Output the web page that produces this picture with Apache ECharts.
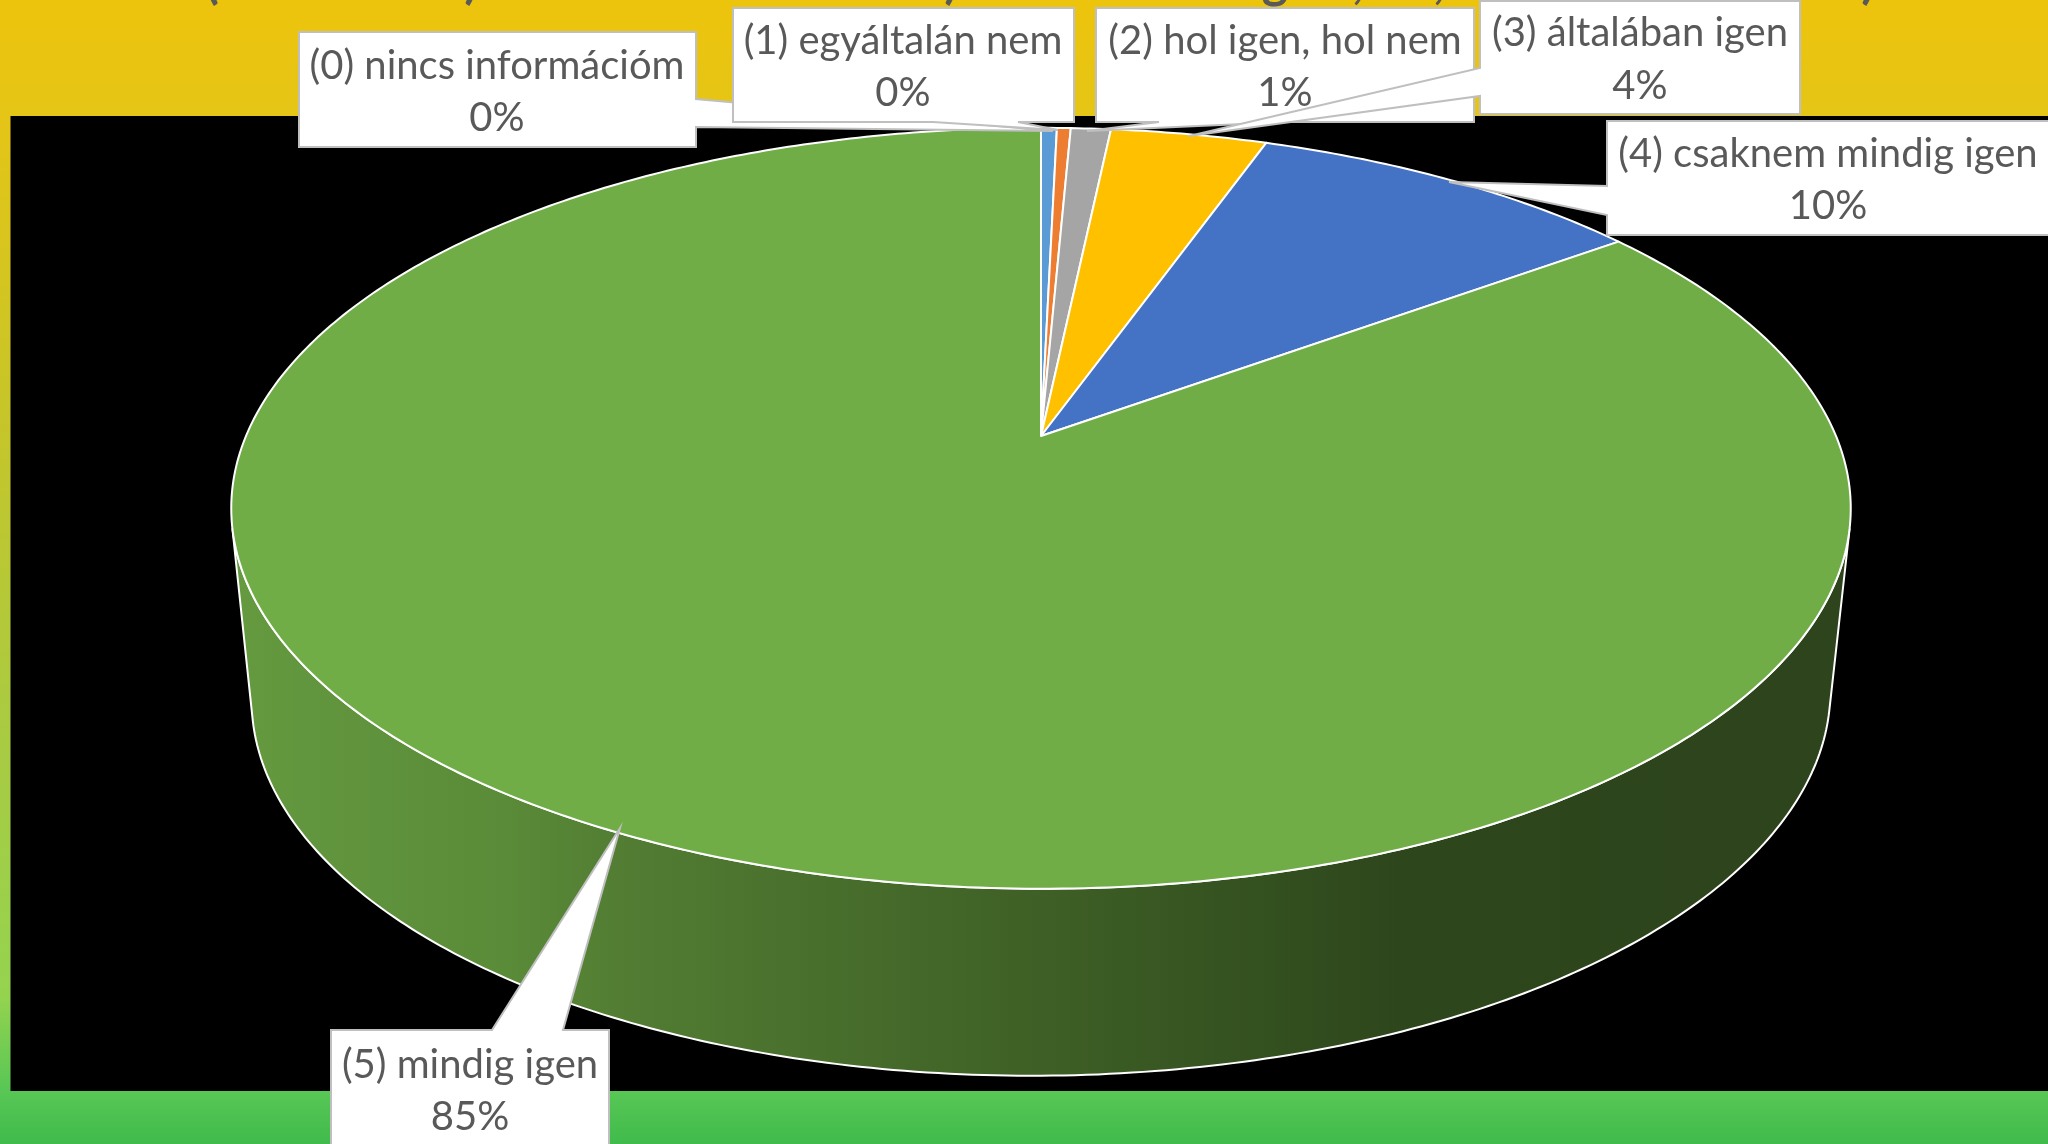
<!DOCTYPE html>
<html>
<head>
<meta charset="utf-8">
<style>html,body{margin:0;padding:0;background:#000;overflow:hidden}#c{width:2048px;height:1144px}</style>
<script src="https://cdn.jsdelivr.net/npm/echarts@6/dist/echarts.min.js"></script>
</head>
<body>
<div id="c"></div>
<script>
const categories = ['(0) nincs információm','(1) egyáltalán nem','(2) hol igen, hol nem','(3) általában igen','(4) csaknem mindig igen','(5) mindig igen'];
const values = [0.38, 0.33, 0.96, 3.75, 9.55, 85.03];
const colors = ['#5b9bd5','#ed7d31','#a5a5a5','#ffc000','#4472c4','#70ad47'];
const titleFragments = [['(',212],[')',471],[')',951],['g',1275],[',',1358],[',',1439],['g',1698],[',',1783],[')',1868]];

// picture layout, not data
const callouts = [
  {pts:[[299,32],[696,32],[696,99],[1053,131],[696,127],[696,147],[299,147]], cx:497, y:[66,118]},
  {pts:[[733,8],[1074,8],[1074,122],[1018,122],[1058,130],[933,122],[733,122]], cx:903, y:[41,93]},
  {pts:[[1096,8],[1474,8],[1474,122],[1287,122],[1087,131],[1159,122],[1096,122]], cx:1285, y:[41,93]},
  {pts:[[1480,1],[1800,1],[1800,114],[1480,114],[1480,96],[1189,136],[1480,68]], cx:1640, y:[33,86]},
  {pts:[[1607,121],[2060,121],[2060,235],[1607,235],[1607,215],[1449,182],[1607,186]], cx:1828, y:[154,206]},
  {pts:[[331,1030],[492,1030],[620,828],[563,1030],[609,1030],[609,1150],[331,1150]], cx:470, y:[1065,1117]}
];
const CX = 1041, P = 0.19, TILT_B = 366.7;
const TOP = {a:795, cy:436, shear:0}, BOTTOM = {a:775, cy:623, shear:0.006};
const WALL_FROM = 104 * Math.PI / 180, WALL_TO = 256 * Math.PI / 180;
const FONT = 'Lato';

function project(t, plane){
  const w = 1 + P * Math.cos(t);
  const dx = plane.a * Math.sin(t) / w;
  return [CX + dx, plane.cy - TILT_B * Math.cos(t) / w - plane.shear * dx];
}
function arc(t0, t1, plane){
  const n = Math.max(2, Math.ceil(Math.abs(t1 - t0) / 0.012));
  const out = [];
  for (let i = 0; i <= n; i++) out.push(project(t0 + (t1 - t0) * i / n, plane));
  return out;
}
const toAngle = v => echarts.number.linearMap(v, [0, 100], [0, Math.PI * 2]);
const wallFill = {type:'linear', global:true, x:231, y:0, x2:1851, y2:0, colorStops:[
  {offset:0,color:'#659a40'},{offset:0.17,color:'#5a8b38'},{offset:0.24,color:'#527d33'},
  {offset:0.45,color:'#426528'},{offset:0.64,color:'#33501f'},{offset:0.72,color:'#2e461c'},{offset:1,color:'#2d441c'}]};

function renderSlice(params, api){
  const i = params.dataIndex;
  let before = 0;
  for (let k = 0; k < i; k++) before += values[k];
  const t0 = toAngle(before), t1 = toAngle(before + api.value(0));
  const children = [];
  const a = Math.max(t0, WALL_FROM), b = Math.min(t1, WALL_TO);
  if (b > a) {
    children.push({type:'polygon', z2:1, shape:{points:arc(a,b,TOP).concat(arc(b,a,BOTTOM))},
      style:{fill:wallFill, stroke:'#ffffff', lineWidth:2, lineJoin:'round'}});
  }
  children.push({type:'polygon', z2:2, shape:{points:[[CX,TOP.cy]].concat(arc(t0,t1,TOP))},
    style:{fill:colors[i], stroke:'#ffffff', lineWidth:2, lineJoin:'round'}});
  return {type:'group', children};
}
function renderLabel(params, api){
  const i = params.dataIndex, c = callouts[i];
  const pct = Math.round(api.value(0)) + '%';
  const txt = (s, y) => ({type:'text', z2:i*3+2, style:{text:s, x:c.cx, y:y, align:'center', verticalAlign:'middle',
    fill:'#595959', font:'40px '+FONT}});
  return {type:'group', children:[
    {type:'polygon', z2:i*3+1, shape:{points:c.pts}, style:{fill:'#ffffff', stroke:'#bfbfbf', lineWidth:2, lineJoin:'miter'}},
    txt(categories[i], c.y[0]), txt(pct, c.y[1])
  ]};
}
const chart = echarts.init(document.getElementById('c'), null, {renderer:'canvas', width:2048, height:1144});
chart.setOption({
  animation:false,
  backgroundColor:'#000000',
  graphic:[
    {type:'rect', z:-3, shape:{x:0,y:0,width:2048,height:1144}, style:{fill:{type:'linear',x:0,y:0,x2:0,y2:1,colorStops:[
      {offset:0,color:'#edc40c'},{offset:0.10,color:'#e5c516'},{offset:0.35,color:'#c8c528'},{offset:0.65,color:'#a8cb42'},
      {offset:0.87,color:'#95d34f'},{offset:0.953,color:'#58c755'},{offset:1,color:'#40bb4c'}]}}},
    {type:'rect', z:-2, shape:{x:10.5,y:116,width:2037.5,height:975}, style:{fill:'#000000'}}
  ].concat(titleFragments.map(f => ({type:'text', z:-1, style:{text:f[0], x:f[1], y:-43, align:'center', verticalAlign:'top',
    fill:'#595959', font:'bold 50px '+FONT}})))
  ,
  series:[
    {type:'custom', coordinateSystem:'none', z:2, silent:true, renderItem:renderSlice, data:values.map(v=>[v])},
    {type:'custom', coordinateSystem:'none', z:3, silent:true, renderItem:renderLabel, data:values.map(v=>[v])}
  ]
});
</script>
</body>
</html>
